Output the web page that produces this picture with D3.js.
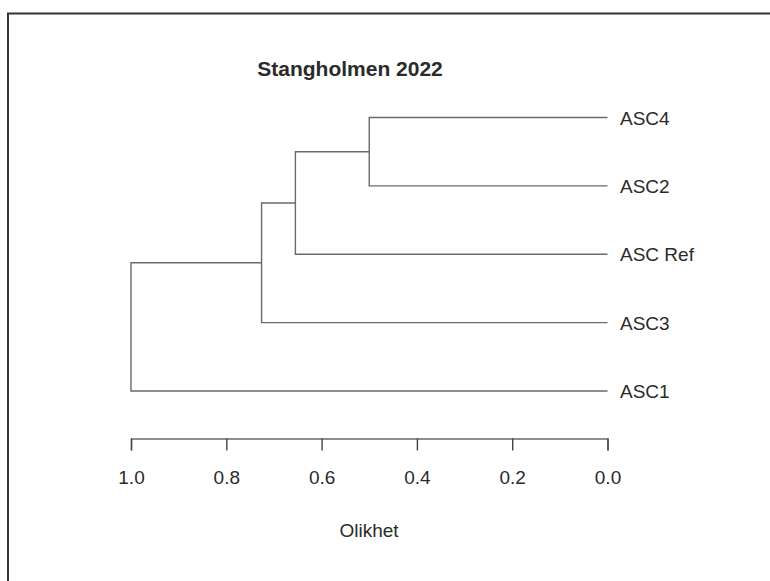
<!DOCTYPE html>
<html>
<head>
<meta charset="utf-8">
<script src="https://cdn.jsdelivr.net/npm/d3@7"></script>
<style>
  body { margin: 0; background: #fff; }
  text { font-family: "Liberation Sans", Arial, sans-serif; fill: #2b2b2b; }
</style>
</head>
<body>
<div id="chart"></div>
<script>
const width = 770
const height = 581

// leaves top to bottom
const leaves = ["ASC4", "ASC2", "ASC Ref", "ASC3", "ASC1"]
// merge steps (R style: a number points to an earlier step)
const merges = [["ASC4", "ASC2"], [1, "ASC Ref"], [2, "ASC3"], [3, "ASC1"]]
const mergeHeights = [0.50, 0.655, 0.726, 1.0]
const tickValues = [1.0, 0.8, 0.6, 0.4, 0.2, 0.0]

const svg = d3.select("#chart").append("svg").attr("width", width).attr("height", height)

// frame (only top and left edges show in the crop)
svg.append("path")
    .attr("d", `M8,${height} V13.5 H${width}`)
    .attr("fill", "none").attr("stroke", "#333").attr("stroke-width", 2)

const x = d3.scaleLinear().domain([1, 0]).range([131, 607.5])
const y = d3.scalePoint().domain(leaves).range([117.5, 391])

const lineGroup = svg.append("g").attr("fill", "none").attr("stroke", "#6a6a6a").attr("stroke-width", 1.4)

// resolve a member to its node position
const nodes = []
const pos = m => typeof m === "number" ? nodes[m - 1] : { h: 0, y: y(m) }

merges.forEach((pair, i) => {
    const h = mergeHeights[i]
    const a = pos(pair[0]), b = pos(pair[1])
    lineGroup.append("path")
        .attr("d", `M${x(a.h)},${a.y} H${x(h)} V${b.y} H${x(b.h)}`)
    nodes.push({ h: h, y: (a.y + b.y) / 2 })
})

// leaf labels
svg.append("g").selectAll("text").data(leaves).enter()
    .append("text")
    .attr("x", 620)
    .attr("y", d => y(d))
    .attr("dy", "0.38em")
    .attr("font-size", 19)
    .text(d => d)

// axis
const xAxis = d3.axisBottom(x).tickValues(tickValues).tickFormat(d3.format(".1f"))
    .tickSizeInner(12).tickSizeOuter(12).tickPadding(20)
const axisGroup = svg.append("g").attr("transform", "translate(0, 438.5)").call(xAxis)
axisGroup.select(".domain").attr("stroke", "#6a6a6a").attr("stroke-width", 1.4)
axisGroup.selectAll(".tick line").attr("stroke", "#444").attr("stroke-width", 1.4)
axisGroup.selectAll(".tick text")
    .attr("font-size", 19)
    .attr("font-family", "Liberation Sans, Arial, sans-serif")
    .attr("fill", "#2b2b2b")

svg.append("text")
    .attr("x", 369).attr("y", 537)
    .attr("text-anchor", "middle")
    .attr("font-size", 19)
    .text("Olikhet")

svg.append("text")
    .attr("x", 350).attr("y", 76)
    .attr("text-anchor", "middle")
    .attr("font-size", 21)
    .attr("font-weight", "bold")
    .text("Stangholmen 2022")
</script>
</body>
</html>
